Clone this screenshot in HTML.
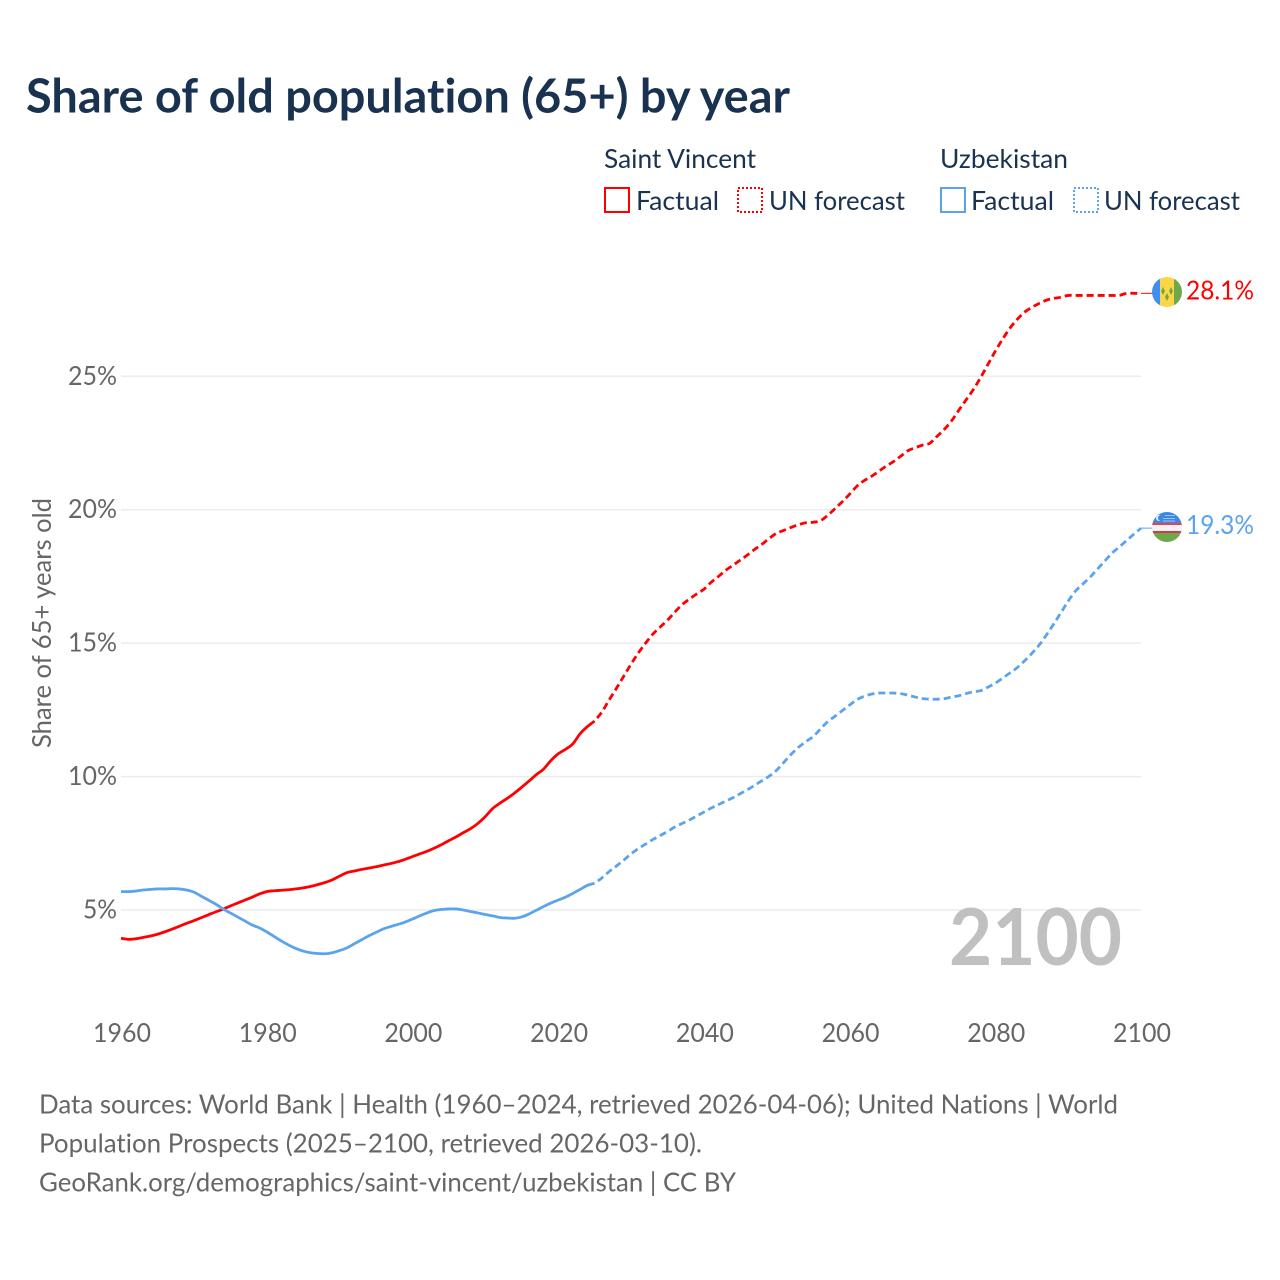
<!DOCTYPE html>
<html lang="en">
<head>
<meta charset="utf-8">
<title>Share of old population (65+) by year</title>
<style>
html,body{margin:0;padding:0;background:#fff;width:1280px;height:1280px;overflow:hidden}
svg{display:block}
text{font-family:"Lato","Carlito","Liberation Sans",sans-serif;font-variant-ligatures:none}
.leg{font-size:26px;fill:#1a3350}
.foot{font-size:26px;fill:#666}
.tick{font-size:26px;fill:#666}
</style>
</head>
<body>
<svg id="chart" width="1280" height="1280" viewBox="0 0 1280 1280" xmlns="http://www.w3.org/2000/svg">
  <defs>
    <clipPath id="clip-a"><circle cx="1167" cy="292" r="15"/></clipPath>
    <clipPath id="clip-b"><circle cx="1167" cy="527" r="15"/></clipPath>
  </defs>
  <text x="26" y="112.5" font-size="47" font-weight="700" fill="#18324f" textLength="764" lengthAdjust="spacingAndGlyphs">Share of old population (65+) by year</text>

  <g>
    <text class="leg" x="604" y="168" textLength="152" lengthAdjust="spacingAndGlyphs">Saint Vincent</text>
    <rect x="605" y="188" width="24" height="24" fill="none" stroke="#ff0000" stroke-width="2"/>
    <text class="leg" x="636" y="210" textLength="83" lengthAdjust="spacingAndGlyphs">Factual</text>
    <rect x="738" y="188" width="24" height="24" fill="none" stroke="#ff0000" stroke-width="2" stroke-dasharray="2 2"/>
    <text class="leg" x="769" y="210" textLength="136" lengthAdjust="spacingAndGlyphs">UN forecast</text>
    <text class="leg" x="940" y="168" textLength="128" lengthAdjust="spacingAndGlyphs">Uzbekistan</text>
    <rect x="941" y="188" width="24" height="24" fill="none" stroke="#5ba4ec" stroke-width="2"/>
    <text class="leg" x="971" y="210" textLength="83" lengthAdjust="spacingAndGlyphs">Factual</text>
    <rect x="1074" y="188" width="24" height="24" fill="none" stroke="#5ba4ec" stroke-width="2" stroke-dasharray="2 2"/>
    <text class="leg" x="1104" y="210" textLength="136" lengthAdjust="spacingAndGlyphs">UN forecast</text>
  </g>

  <text class="tick" transform="translate(51,748) rotate(-90)" textLength="250" lengthAdjust="spacingAndGlyphs">Share of 65+ years old</text>

  <g id="grid"></g>
  <g id="yticks"></g>
  <g id="xticks"></g>

  <text x="949" y="965" font-size="79" font-weight="700" fill="#c0c0c0" textLength="173" lengthAdjust="spacingAndGlyphs">2100</text>

  <g id="series"></g>

  <g clip-path="url(#clip-a)">
    <rect x="1152" y="277" width="9" height="30" fill="#3f8ff0"/>
    <rect x="1160" y="277" width="14" height="30" fill="#fdd645"/>
    <rect x="1174" y="277" width="8" height="30" fill="#6fa84a"/>
    <polygon points="1163,287 1165,291 1163,295 1161,291" fill="#6fa84a"/>
    <polygon points="1171,287 1173,291 1171,295 1169,291" fill="#6fa84a"/>
    <polygon points="1167,293 1169,297 1167,301 1165,297" fill="#6fa84a"/>
  </g>
  <g clip-path="url(#clip-b)">
    <rect x="1152" y="512" width="30" height="11" fill="#3b88e8"/>
    <rect x="1152" y="523" width="30" height="2" fill="#e8424f"/>
    <rect x="1152" y="525" width="30" height="6" fill="#f4f2f2"/>
    <rect x="1152" y="531" width="30" height="2" fill="#d83a48"/>
    <rect x="1152" y="533" width="30" height="9" fill="#6fa84a"/>
    <circle cx="1159" cy="518" r="3" fill="#e8f0fb"/>
    <circle cx="1160.5" cy="518" r="2.6" fill="#3b88e8"/>
    <rect x="1165" y="515" width="10" height="1" fill="#9fc3f2"/>
    <rect x="1163" y="518" width="12" height="1" fill="#9fc3f2"/>
    <rect x="1163" y="520.5" width="12" height="1" fill="#9fc3f2"/>
  </g>

  <g>
    <text class="foot" x="39" y="1113.5" textLength="1079" lengthAdjust="spacingAndGlyphs">Data sources: World Bank | Health (1960–2024, retrieved 2026-04-06); United Nations | World</text>
    <text class="foot" x="39" y="1152.5" textLength="663" lengthAdjust="spacingAndGlyphs">Population Prospects (2025–2100, retrieved 2026-03-10).</text>
    <text class="foot" x="39" y="1191.5" textLength="697" lengthAdjust="spacingAndGlyphs">GeoRank.org/demographics/saint-vincent/uzbekistan | CC BY</text>
  </g>
</svg>
<script>
const yTicks = [5, 10, 15, 20, 25];
const xTicks = [1960, 1980, 2000, 2020, 2040, 2060, 2080, 2100];
const factualStartYear = 1960;
const forecastStartYear = 2025;
const saintVincentFactual = [3.94,3.9,3.92,3.97,4.02,4.09,4.18,4.28,4.39,4.5,4.6,4.71,4.82,4.93,5.03,5.15,5.26,5.37,5.48,5.6,5.69,5.72,5.74,5.76,5.79,5.83,5.88,5.95,6.03,6.13,6.27,6.4,6.46,6.52,6.57,6.62,6.68,6.74,6.81,6.9,7.0,7.1,7.2,7.32,7.45,7.6,7.74,7.9,8.05,8.25,8.5,8.8,9.0,9.18,9.38,9.6,9.83,10.07,10.28,10.6,10.85,11.02,11.22,11.6,11.87,12.08];
const saintVincentForecast = [12.08,12.42,12.87,13.31,13.76,14.21,14.63,15.0,15.34,15.6,15.86,16.16,16.44,16.65,16.84,17.02,17.28,17.5,17.73,17.92,18.11,18.31,18.52,18.71,18.93,19.12,19.23,19.34,19.44,19.51,19.53,19.59,19.79,20.04,20.3,20.58,20.88,21.09,21.25,21.44,21.63,21.8,22.0,22.21,22.32,22.42,22.49,22.75,23.01,23.33,23.73,24.12,24.51,24.96,25.45,25.94,26.39,26.8,27.13,27.4,27.58,27.73,27.85,27.92,27.96,28.03,28.03,28.03,28.03,28.03,28.03,28.03,28.03,28.11,28.11,28.11];
const uzbekistanFactual = [5.69,5.69,5.71,5.75,5.77,5.79,5.79,5.8,5.79,5.75,5.67,5.52,5.37,5.22,5.04,4.89,4.74,4.59,4.44,4.33,4.18,4.01,3.84,3.69,3.56,3.46,3.4,3.37,3.36,3.4,3.48,3.58,3.73,3.88,4.03,4.16,4.29,4.38,4.46,4.55,4.66,4.78,4.89,4.98,5.02,5.04,5.04,5.0,4.94,4.89,4.83,4.78,4.72,4.7,4.69,4.74,4.85,4.99,5.13,5.26,5.37,5.48,5.62,5.77,5.92,6.0];
const uzbekistanForecast = [6.0,6.2,6.44,6.65,6.87,7.1,7.3,7.47,7.64,7.79,7.94,8.11,8.24,8.37,8.52,8.67,8.82,8.95,9.08,9.21,9.36,9.51,9.68,9.85,10.02,10.24,10.54,10.84,11.1,11.31,11.5,11.78,12.06,12.26,12.47,12.68,12.88,13.01,13.09,13.13,13.13,13.13,13.11,13.05,12.98,12.92,12.9,12.9,12.92,12.98,13.03,13.11,13.18,13.22,13.35,13.5,13.69,13.88,14.08,14.33,14.61,14.92,15.3,15.71,16.14,16.57,16.95,17.21,17.47,17.77,18.07,18.37,18.6,18.84,19.08,19.31];

const NS = 'http://www.w3.org/2000/svg';
const RED = '#ff0000';
const BLUE = '#5ba4ec';
function xScale(year) { return 121 + (year - 1960) * (1141 - 121) / 140; }
function yScale(v) { return 910 - (v - 5) * (910 - 376.3) / 20; }
function smoothPath(pts) {
  let d = 'M' + pts[0][0].toFixed(2) + ' ' + pts[0][1].toFixed(2);
  for (let i = 0; i < pts.length - 1; i++) {
    const p0 = pts[Math.max(i - 1, 0)], p1 = pts[i], p2 = pts[i + 1], p3 = pts[Math.min(i + 2, pts.length - 1)];
    d += 'C' + (p1[0] + (p2[0] - p0[0]) / 6).toFixed(2) + ' ' + (p1[1] + (p2[1] - p0[1]) / 6).toFixed(2) + ' ' +
         (p2[0] - (p3[0] - p1[0]) / 6).toFixed(2) + ' ' + (p2[1] - (p3[1] - p1[1]) / 6).toFixed(2) + ' ' +
         p2[0].toFixed(2) + ' ' + p2[1].toFixed(2);
  }
  return d;
}
function toPoints(values, startYear) {
  return values.map(function (v, i) { return [xScale(startYear + i), yScale(v)]; });
}

const gridGroup = document.getElementById('grid');
const yTickGroup = document.getElementById('yticks');
yTicks.forEach(function (t) {
  const line = document.createElementNS(NS, 'line');
  
  
  line.setAttribute('x1', 121);
  line.setAttribute('x2', 1141);
  line.setAttribute('y1', yScale(t));
  line.setAttribute('y2', yScale(t));
  line.setAttribute('stroke', '#ececec');
  line.setAttribute('stroke-width', '1.5');
  gridGroup.appendChild(line);
  const label = document.createElementNS(NS, 'text');
  
  
  label.setAttribute('class', 'tick');
  label.setAttribute('x', 117);
  label.setAttribute('y', yScale(t) + 8.5);
  label.setAttribute('text-anchor', 'end');
  label.setAttribute('textLength', t >= 10 ? 49 : 34);
  label.setAttribute('lengthAdjust', 'spacingAndGlyphs');
  label.textContent = t + '%';
  yTickGroup.appendChild(label);
});

const xTickGroup = document.getElementById('xticks');
xTicks.forEach(function (t) {
  const label = document.createElementNS(NS, 'text');
  
  
  label.setAttribute('class', 'tick');
  label.setAttribute('x', xScale(t) + 1);
  label.setAttribute('y', 1042);
  label.setAttribute('text-anchor', 'middle');
  label.setAttribute('textLength', 58);
  label.setAttribute('lengthAdjust', 'spacingAndGlyphs');
  label.textContent = t;
  xTickGroup.appendChild(label);
});

const seriesGroup = document.getElementById('series');
function drawLine(values, startYear, color, dashed, name) {
  const path = document.createElementNS(NS, 'path');
  
  
  path.setAttribute('d', smoothPath(toPoints(values, startYear)));
  path.setAttribute('fill', 'none');
  path.setAttribute('stroke', color);
  path.setAttribute('stroke-width', '2.8');
  if (dashed) {
    path.setAttribute('stroke-dasharray', '7 4');
    path.setAttribute('stroke-dashoffset', '7');
  }
  seriesGroup.appendChild(path);
}
drawLine(saintVincentFactual, factualStartYear, RED, false, 'saint-vincent-factual-line');
drawLine(saintVincentForecast, forecastStartYear, RED, true, 'saint-vincent-forecast-line');
drawLine(uzbekistanFactual, factualStartYear, BLUE, false, 'uzbekistan-factual-line');
drawLine(uzbekistanForecast, forecastStartYear, BLUE, true, 'uzbekistan-forecast-line');

function drawEnd(values, color, name) {
  const last = values[values.length - 1];
  const conn = document.createElementNS(NS, 'line');
  
  
  conn.setAttribute('x1', 1141);
  conn.setAttribute('x2', 1153);
  conn.setAttribute('y1', yScale(last));
  conn.setAttribute('y2', yScale(last));
  conn.setAttribute('stroke', color);
  conn.setAttribute('stroke-width', '1');
  seriesGroup.appendChild(conn);
  const label = document.createElementNS(NS, 'text');
  
  
  label.setAttribute('x', 1186);
  label.setAttribute('y', yScale(last) + 6);
  label.setAttribute('font-size', '26');
  label.setAttribute('fill', color);
  label.setAttribute('textLength', '68');
  label.setAttribute('lengthAdjust', 'spacingAndGlyphs');
  label.textContent = last.toFixed(1) + '%';
  seriesGroup.appendChild(label);
}
drawEnd(saintVincentForecast, RED, 'saint-vincent');
drawEnd(uzbekistanForecast, BLUE, 'uzbekistan');
</script>
</body>
</html>
